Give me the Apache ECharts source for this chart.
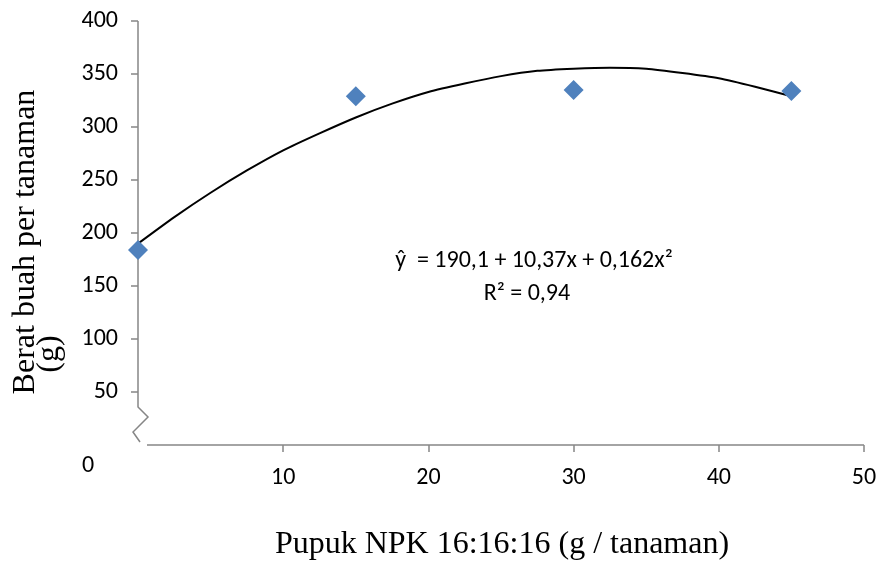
<!DOCTYPE html>
<html><head><meta charset="utf-8">
<script src="https://cdn.jsdelivr.net/npm/echarts@6/dist/echarts.min.js"></script>
<style>html,body{margin:0;padding:0;background:#fff}#c{width:881px;height:562px}</style>
</head><body><div id="c"></div>
<script>
// ---- data ----
const doses = [0, 15, 30, 45];
const weights = [184, 329, 335, 334];
const trendX = [0, 2.5, 5, 7.5, 10, 12.5, 15, 17.5, 20, 22.5, 25, 27.5, 30, 32.5, 35, 37.5, 40, 42.5, 45];
const trendY = [190, 215, 238, 259, 278, 294, 309, 322, 333, 341, 348, 353, 355, 356, 355, 351, 346, 338, 329];
const xTicks = [10, 20, 30, 40, 50];
const yTicks = [50, 100, 150, 200, 250, 300, 350, 400];
const xTitle = 'Pupuk NPK 16:16:16 (g / tanaman)';
const yTitle1 = 'Berat buah per tanaman';
const yTitle2 = '(g)';
const eq1 = 'ŷ  = 190,1 + 10,37x + 0,162x²';
const eq2 = 'R² = 0,94';
const zeroLabel = '0';

const labelFont = '"Carlito","Liberation Sans",sans-serif';
const serif = '"Liberation Serif","Times New Roman",serif';
const axisColor = '#868686';

const chart = echarts.init(document.getElementById('c'), null, {renderer: 'canvas'});
chart.setOption({
  animation: false,
  backgroundColor: '#fff',
  grid: {left: 138, right: 17, top: 21, bottom: 117},
  xAxis: {
    type: 'value', min: 0, max: 50, interval: 10,
    axisLine: {show: false},
    splitLine: {show: false},
    axisTick: {show: true, customValues: xTicks, length: 7, lineStyle: {color: axisColor, width: 1.5}},
    axisLabel: {customValues: xTicks, margin: 21, fontSize: 24, color: '#000', fontFamily: labelFont}
  },
  yAxis: {
    type: 'value', min: 0, max: 400, interval: 50,
    axisLine: {show: false},
    splitLine: {show: false},
    axisTick: {show: true, inside: false, customValues: yTicks, length: 7, lineStyle: {color: axisColor, width: 1.5}},
    axisLabel: {customValues: yTicks, margin: 20, fontSize: 24, color: '#000', fontFamily: labelFont}
  },
  series: [
    {
      type: 'line', data: trendX.map((x, i) => [x, trendY[i]]),
      smooth: 0.2, showSymbol: false, symbol: 'none',
      lineStyle: {color: '#000', width: 2}, z: 2
    },
    {
      type: 'scatter', data: doses.map((x, i) => [x, weights[i]]),
      symbol: 'diamond', symbolSize: 20,
      itemStyle: {color: '#4F81BD', opacity: 1}, z: 3
    }
  ]
});

const [X0, Y0] = chart.convertToPixel({gridIndex: 0}, [0, 0]);
const [X50, Ytop] = chart.convertToPixel({gridIndex: 0}, [50, 400]);

chart.setOption({
  graphic: [
    {type: 'polyline', shape: {points: [[X0, Ytop], [X0, Y0 - 38], [X0 + 10, Y0 - 28], [X0 - 5, Y0 - 13], [X0 + 2, Y0 - 3]]},
     style: {stroke: axisColor, lineWidth: 1.5, fill: null}},
    {type: 'line', shape: {x1: X0 + 9, y1: Y0, x2: X50, y2: Y0}, style: {stroke: axisColor, lineWidth: 1.5}},
    {type: 'text', x: 88, y: 466, style: {text: zeroLabel, font: '24px ' + labelFont, fill: '#000', textAlign: 'center', textVerticalAlign: 'middle'}},
    {type: 'text', x: 534, y: 261, style: {text: eq1, font: '24px ' + labelFont, fill: '#000', textAlign: 'center', textVerticalAlign: 'middle'}},
    {type: 'text', x: 527, y: 294, style: {text: eq2, font: '24px ' + labelFont, fill: '#000', textAlign: 'center', textVerticalAlign: 'middle'}},
    {type: 'text', x: 502, y: 545, style: {text: xTitle, font: '32px ' + serif, fill: '#000', textAlign: 'center', textVerticalAlign: 'middle'}},
    {type: 'text', x: 26, y: 242, rotation: Math.PI / 2, style: {text: yTitle1, font: '32px ' + serif, fill: '#000', textAlign: 'center', textVerticalAlign: 'middle'}},
    {type: 'text', x: 50, y: 354, rotation: Math.PI / 2, style: {text: yTitle2, font: '32px ' + serif, fill: '#000', textAlign: 'center', textVerticalAlign: 'middle'}}
  ]
});
</script>
</body></html>
